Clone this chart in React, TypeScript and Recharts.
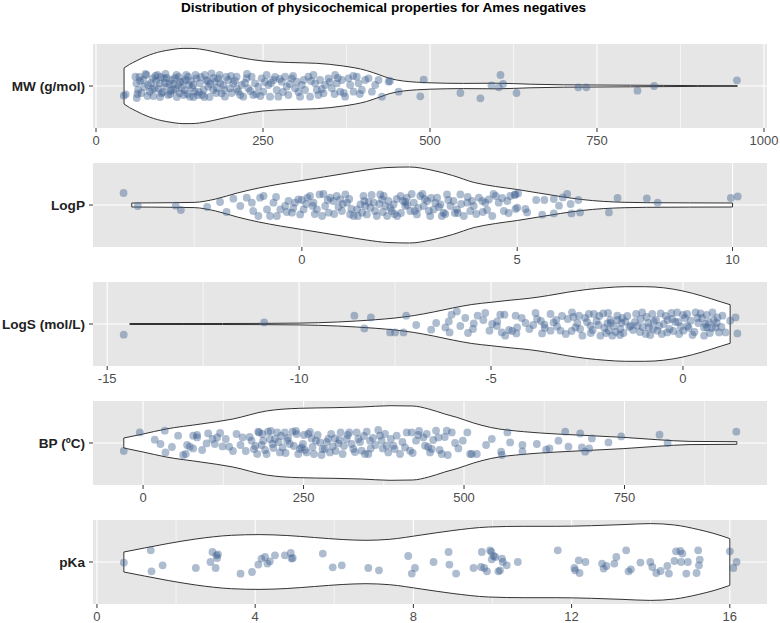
import {
  ComposedChart,
  Area,
  Scatter,
  XAxis,
  YAxis,
  CartesianGrid,
  ReferenceLine,
} from "recharts";

const FONT = "'Liberation Sans', Arial, sans-serif";
const POINT_COLOR = "#3F5F8F";

// ---- MW (g/mol)
const mwGrid = [42, 50, 60, 70, 80, 92, 105, 118, 130, 142, 155, 175, 195, 215, 250, 290, 330, 370, 405, 425, 440, 460, 480, 500, 550, 600, 650, 700, 750, 800, 850, 900, 960];
const mwHalf = [18, 21.5, 25, 28.3, 31, 33.6, 35.5, 36.9, 37.6, 37.6, 37, 34.5, 31.5, 28.5, 25, 23.5, 22.7, 20, 15.5, 11, 7.5, 5, 3.8, 3.2, 2.6, 2.8, 1.8, 1.2, 1.0, 0.8, 0.6, 0.4, 0.3];
const mwTicks = [0, 250, 500, 750, 1000];
const mwMinor = [125, 375, 625, 875];
const mwPoints: [number, number][] = [
  [41.5, -9.7], [44.5, -8.3], [59, 9.3], [60.5, 2.7], [63, -4], [70.5, 6], [75.5, 11], [78, 1], [80.5, -5.7], [85.5, 7.7],
  [88, -2.3], [92, 11], [95.5, 2.7], [98, -7.3], [102, 7.7], [105.5, -0.7], [108, -9], [113, 6], [115.5, -4], [120.5, 11],
  [123, 1], [125.5, -7.3], [130.5, 4.3], [133, -4], [138, 9.3], [140.5, -10.7], [145.5, 1], [148, -5.7], [150.5, 7.7], [155.5, 2.7],
  [159, -9], [163, 11], [165.5, 6], [168, -0.7], [173, 12.7], [175.5, -4], [178, 4.3], [183, 7.7], [188, -7.3], [190.5, 1],
  [193, -10.7], [198, 6], [200.5, -2.3], [205.5, 2.7], [210.5, 9.3], [213, -5.7], [218, 1], [220.5, -10.7], [225.5, 7.7], [228, -2.3],
  [233, 9.3], [235.5, -9], [238, 2.7], [243, -0.7], [248, 7.7], [250.5, -5.7], [255.5, 11], [258, 1], [260.5, -10.7], [265.5, 6],
  [270.5, -4], [273, -10.7], [278, 4.3], [283, 9.3], [285.5, -0.7], [288, -9], [293, 7.7], [298, -2.3], [300.5, 4.3], [305.5, -10.7],
  [308, 1], [313, -4], [318, 9.3], [320.5, -10.7], [325.5, 11], [328, 2.7], [330.5, -4], [335.5, 6], [340.5, -7.3], [343, 1],
  [348, 7.7], [353, -2.3], [358, 11], [360.5, 2.7], [365.5, -5.7], [368, 6], [373, -10.7], [378, 7.7], [380.5, 1], [385.5, -5.7],
  [390.5, 9.3], [393, 2.7], [398, -4], [403, 6], [408, 7.7], [413, -5.7], [418, 1], [428, -10.7], [438, 4.3], [453, -5.7],
  [61, -12], [62, -8], [66, 5], [72, -1], [74, 12], [82, 3], [86, -10], [90, 5], [94, -3], [97, 9],
  [100, -6], [104, 12], [110, 2], [112, -5], [118, 8], [121, -11], [126, 4], [128, -2], [135, 11], [137, -8],
  [142, 5], [144, -2], [152, -9], [157, 9], [161, -4], [167, 5], [170, -11], [176, 8], [180, -7], [186, 3],
  [195, 9], [203, -7], [208, 5], [216, -9], [223, 3], [231, -5], [246, -10], [253, 4], [268, 9], [280, -6],
  [295, 10], [311, 6], [333, -9], [350, 4], [371, -7], [385, 10],
  [65, 9], [68, -7], [77, -10], [84, -3], [89, 10], [96, -11], [103, 3], [106, 8], [111, -8], [116, 2],
  [119, -3], [124, 9], [131, -9], [134, 6], [139, 1], [146, -11], [149, 11], [154, -6], [162, -11], [171, 2],
  [181, -2], [185, 11], [192, -4], [202, 10], [211, -3], [226, 12], [240, -8], [262, 3], [275, 7], [290, 2],
  [303, -6], [322, 5], [338, -3], [357, -8], [362, 8], [395, -8], [423, 6],
  [440, 5], [485.5, -10.3], [490.5, 6.3], [545.5, -7], [575.5, -12.3], [592, 0.7], [603, -1.3], [605.5, 11], [609.5, 2], [629.5, -7],
  [722, -1.3], [734, -1.3], [810.6, -4.7], [835.5, 0], [959.5, 5.7],
];

// ---- LogP
const lpGrid = [-3.95, -3.5, -3.0, -2.5, -2.0, -1.5, -1.0, -0.5, 0, 0.5, 1.0, 1.5, 2.0, 2.5, 3.0, 3.5, 4.0, 4.5, 5.0, 5.5, 6.0, 6.5, 7.0, 7.5, 8.0, 9.0, 10.0];
const lpHalf = [2, 2.1, 2.3, 2.6, 6, 12, 17, 21, 24.5, 28, 31.5, 35, 37.5, 38, 35, 29.5, 22.5, 18.5, 15.5, 12, 8.5, 5.5, 3.6, 2.7, 2.3, 2.1, 2];
const lpTicks = [0, 5, 10];
const lpMinor = [-2.5, 2.5, 7.5];
const lpPoints: [number, number][] = [
  [-4.14, 12], [-3.81, -1], [-2.93, -0.7], [-2.81, -5],
  [-1.59, 6.3], [-1.43, -1], [-1.28, 7.3], [-1.16, 2.3], [-1.13, -6], [-1.01, -11], [-0.97, 7.3], [-0.89, 9], [-0.81, -4.4], [-0.74, -11],
  [-0.66, 2.3], [-0.58, -11], [-0.5, -4.4], [-0.39, -1], [-0.31, 4], [-0.23, -7.7], [-0.16, 2.3], [-0.08, 5.6], [-0.04, -9.4], [0.04, -4.4],
  [0.13, 7.3], [0.19, 9], [0.27, 2.3], [0.35, -4.4], [0.41, 10.6], [0.47, -11], [0.54, -1], [0.62, -7.7], [0.66, 7.3], [0.73, 4],
  [0.81, 9], [0.89, 5.6], [0.93, -6], [1.01, 10.6], [1.05, 2.3], [1.12, -9.4], [1.2, -11], [1.28, -4.4], [1.36, 0.6], [1.4, -7.7],
  [1.43, 9], [1.47, -1], [1.51, -9.4], [1.59, -2.7], [1.67, 2.3], [1.74, -11], [1.82, 10.6], [1.86, 5.6], [1.9, 9], [1.94, -1],
  [1.98, -11], [2.01, 4], [2.09, -6], [2.13, 0.6], [2.21, -11], [2.29, 9], [2.35, 4], [2.4, -1], [2.44, 7.3], [2.52, -6],
  [2.6, 2.3], [2.67, -9.4], [2.75, 9], [2.83, -1], [2.91, 4], [2.98, -11], [3.06, -4.4], [3.14, 7.3], [3.22, 0.6], [3.29, -7.7],
  [3.37, 10.6], [3.45, -1], [3.52, 4], [3.6, -4.4], [3.68, 10.6], [3.76, -11], [3.84, 2.3], [3.91, -6], [3.99, -1], [4.11, 7.3],
  [4.19, 4], [4.26, 2.3], [4.34, 5.6], [4.42, -11], [4.5, 9], [4.57, 2.3], [4.69, -6], [4.77, 4], [4.84, 9], [4.96, 10.6],
  [5.0, -2.7], [4.94, 10], [4.96, -4], [5.19, -4], [5.23, -7.4], [5.02, 11.6],
  [5.44, 5], [5.63, 5], [5.85, 6], [5.58, -9.7], [5.85, -8.4], [5.97, -0.7], [6.06, 7.6], [6.16, 11], [6.24, 1], [6.26, -8.4],
  [6.42, 5], [6.46, -7.4], [7.13, -7.4], [7.33, 7], [8.01, 6.6], [8.26, 2.3], [9.96, 7], [10.12, 8.6],
  [-0.2, -3], [0.1, 1], [0.3, -9], [0.6, 5], [0.85, -2], [1.1, 6], [1.3, -11], [1.55, 3], [1.7, -6], [1.8, 1],
  [2.05, -3], [2.2, 6], [2.3, -8], [2.45, 0], [2.55, 11], [2.7, -3], [2.85, 6], [2.95, -6], [3.1, 2], [3.25, -11],
  [3.4, 5], [3.55, -8], [3.7, 1], [3.85, 8], [4.05, -9], [4.3, -5], [4.65, 7], [-1.9, 3], [-2.2, -2], [-1.75, -7],
  [-0.6, 8], [-0.35, -7], [0.0, 5], [0.25, -1], [0.5, 11], [0.75, -9], [0.95, 1], [1.15, -4], [1.45, 4], [1.62, 10],
  [1.88, -7], [2.15, -9], [2.4, 3], [2.62, -6], [2.8, 11], [3.0, 7], [3.18, -2], [3.33, -9], [3.62, -8], [3.95, 4],
  [4.2, -7], [4.45, 11], [4.8, -8],
];

// ---- LogS (mol/L)
const lsGrid = [-14.41, -13, -12, -11, -10, -9.5, -9, -8.5, -8, -7.5, -7, -6.5, -6, -5.5, -5, -4.5, -4, -3.5, -3, -2.5, -2, -1.5, -1, -0.5, 0, 0.5, 1.0, 1.23];
const lsHalf = [0.5, 0.5, 0.5, 0.6, 0.9, 1.3, 2, 3, 4.3, 6, 8.5, 12, 16, 19.5, 21.7, 23.8, 25.7, 28.5, 31.8, 34.5, 36.3, 37.3, 37.3, 36.2, 33, 28, 22, 19.3];
const lsTicks = [-15, -10, -5, 0];
const lsMinor = [-12.5, -7.5, -2.5];
const lsPoints: [number, number][] = [
  [-14.57, -10.7], [-10.91, 1.6], [-8.56, 8.3], [-8.13, 6.6], [-8.3, -4.4], [-7.63, -8.4],
  [-7.5, -8.4], [-7.28, -8.4], [-7.21, 8.3], [-6.95, -1], [-6.56, -5.7], [-6.43, 1], [-6.19, -3.4], [-6.1, 2.6], [-6.08, -8.4], [-6.03, 9.3],
  [-5.89, 12.6], [-5.67, 6], [-5.45, 0.6], [-5.47, -5], [-5.35, 8.3], [-5.15, 11], [-5.04, -6.7], [-4.97, 0], [-4.84, 2.6], [-4.76, 9.3],
  [-4.65, 9.3], [-4.36, 8.3], [-4.32, -3.4], [-4.34, -9.4], [-4.63, -11.7], [-4.72, -8.4], [-4.53, -6], [-4.1, 1], [-3.84, 11], [-3.8, 5],
  [-3.67, -9.4], [-3.61, -0.7], [-3.45, 10], [-3.45, -6.7], [-3.37, 1.6], [-3.28, -2.4], [-3.19, -6.7], [-2.89, 11.6], [-2.8, -3.4], [-2.71, 8.3],
  [-2.62, -11.7], [-2.45, 10], [-2.32, 10], [-2.41, -1.7], [-2.15, -11.7], [-2.08, 10.6], [-1.97, 0.6], [-1.93, -6.7], [-1.89, 4], [-1.84, -11.7],
  [-1.71, 8.3], [-1.63, -5], [-1.64, -11], [-1.5, 2.6], [-1.36, -1.7], [-1.19, -1.7], [-1.1, 5], [-1.06, 11.6], [-0.97, -10], [-0.89, -3.4],
  [-0.8, 10], [-0.76, 2.6], [-0.67, -6.7], [-0.58, 10.6], [-0.5, 0], [-0.41, -8.4], [-0.28, 5], [-0.15, 11.6], [-0.06, -2.7], [0.01, -6.7],
  [0.11, 10], [0.2, 3.3], [0.33, 11.6], [0.46, 10.6], [0.55, -11.7], [0.59, 0], [0.63, -3.4], [0.68, 1.6], [0.55, -3.4], [0.77, 11.6],
  [0.85, -3.4], [0.9, 6.6], [0.94, -8.4], [1.03, 8.3], [1.11, -8.4], [1.23, 3.3], [1.37, 6.6], [1.42, -9.4],
  [-3.0, 5], [-2.9, -7], [-2.75, 1], [-2.55, 6], [-2.4, -9], [-2.25, 3], [-2.05, -4], [-1.95, 11], [-1.8, -2], [-1.7, 4],
  [-1.55, -9], [-1.45, 8], [-1.3, -6], [-1.25, 2], [-1.05, -3], [-0.95, 7], [-0.85, -11], [-0.7, 4], [-0.62, -2], [-0.45, 8],
  [-0.35, -5], [-0.2, 2], [-0.1, -10], [0.05, 6], [0.15, -4], [0.3, -8], [0.4, 1], [0.5, 6], [0.7, -9], [0.8, 4],
  [-3.6, -4], [-3.9, -1], [-4.2, 6], [-4.45, -7], [-5.2, 4], [-5.8, -2], [-3.15, 8], [-2.2, -1], [-1.6, 1], [-0.3, 11],
  [-3.3, 4], [-3.05, -10], [-2.85, 7], [-2.68, -5], [-2.5, 2], [-2.35, -6], [-2.18, 8], [-2.0, -9], [-1.88, 1], [-1.75, -8],
  [-1.58, 6], [-1.4, -3], [-1.22, 10], [-1.12, -8], [-0.9, 1], [-0.78, -5], [-0.55, -10], [-0.4, 4], [-0.25, -7], [-0.12, 2],
  [0.0, 9], [0.12, -2], [0.25, -11], [0.38, 6], [0.62, 9], [0.75, -4], [0.88, 1], [1.0, -3], [-4.0, -5], [-3.7, 3],
  [-4.85, -2], [-5.6, -9],
];

// ---- BP (ºC)
const bpGrid = [-30, 0, 36, 90, 140, 192, 244, 296, 340, 385, 420, 445, 470, 489, 515, 541, 593, 645, 697, 749, 801, 852, 925];
const bpHalf = [5, 9, 14, 19, 24, 32, 34.7, 35.3, 36, 37.3, 37, 34, 29, 25.6, 20, 15.6, 11.3, 9, 7.3, 5.6, 3.3, 1.6, 1.3];
const bpTicks = [0, 250, 500, 750];
const bpMinor = [125, 375, 625, 875];
const bpPoints: [number, number][] = [
  [-30.1, -8], [-5.1, 10.6], [18.2, 3.3], [27.1, -1], [33.8, 12.3], [34.9, -9.4], [54.6, 7.3], [62.4, -12], [66.6, -11], [68.6, -2],
  [72.8, -3.7], [78, -5.4], [78, 7.3], [84.2, 8], [84.2, 5.6], [98.9, -0.4], [101.4, 9.6], [108.2, 4], [111.8, -1], [115.4, 5.6],
  [123.8, -3.4], [128.9, 4], [134.1, -3.7], [145.6, 9], [151.8, -2], [155, 5.6], [169, 2.3], [172.6, -6], [177.8, -11], [179.3, 11.3],
  [180.9, 10.6], [184.6, -2], [187.1, 2.3], [192.4, -11], [194.9, 11.3], [197.6, 4], [201.8, -1], [205.4, 4], [208.9, 10.6], [213.2, -9.4],
  [217.3, -4.4], [220.9, 10.6], [224.5, 2.3], [228.7, -1], [232.9, 11.3], [239.2, 9], [241.7, -11], [244.3, -6], [247, -4.4], [250.6, 8],
  [254.8, -9.4], [257.3, 9], [262.6, 4.6], [266.2, -11], [269.3, 2.3], [275.5, 0.6], [279.7, -6], [283.3, -6], [288.5, 4], [291.1, -9.4],
  [295.3, -3.4], [298.9, 4.6], [304.1, -0.4], [307.8, 10.6], [310.9, -11], [317.2, 4], [321.2, 10.6], [325, -1], [327.5, -6], [332.8, 10.6],
  [335.3, 4], [340.6, -7.7], [345.7, -11], [348.4, 11.3], [353.5, 2.3], [354.6, -5.4], [366.4, 13], [369.1, 7.3], [371.7, 2.3], [373.3, -5.4],
  [379.5, -2.7], [382, -9.4], [389.8, -2.7], [395.1, 7.3], [400.3, -11], [408.1, -4.4], [410.7, 10.6], [415.9, -7.7], [418.5, 10.6], [425.2, 2.3],
  [428.8, 8], [436.6, 5.6], [439.3, -2.7], [441.9, 9], [447, -9.4], [449.7, -6], [456.4, 12.3], [460, 5.6], [465.3, -11], [473.1, 12.3],
  [474.7, -12], [480.9, 10.6], [491.2, -5.4], [498.1, 2.3], [505.2, 10.6], [509.4, -11], [512.1, -11], [519.9, -11], [534.4, -2], [543.3, 4],
  [557.8, -8.7], [558.9, -12], [567.6, 10.6], [571.8, 0.6], [591, -2], [591, -8.4], [613.4, -1], [627.9, -6.7], [633.1, -5.4], [647.1, 2.3],
  [657.6, 11.3], [662.7, -3.7], [681, 9.6], [683.6, -4.4], [688.7, -8.7], [694.9, -5.4], [699.2, 4.6], [725, 0.6], [744.9, 6.6], [804.6, 8.3],
  [817.1, 0], [924.2, 11.3],
  [160, -8], [166, 6], [175, -3], [186, 9], [190, -7], [199, 12], [203, -5], [211, 1], [215, 7], [222, -10],
  [226, 5], [235, -3], [238, 12], [249, -1], [252, -7], [260, 11], [264, -4], [272, 8], [278, -12], [286, 1],
  [293, 9], [300, -8], [306, 3], [313, -3], [319, 8], [330, -9], [338, 1], [344, 7], [351, -11], [358, 5],
  [362, -2], [377, 9], [386, 4], [392, -6], [404, 1], [420, -10], [430, 12], [444, -4], [452, 3], [462, -7],
  [470, 6], [486, 0], [45, -4], [92, -7], [120, 10], [140, -8],
];

// ---- pKa
const pkGrid = [0.68, 1.2, 1.8, 2.5, 3.4, 4.1, 4.8, 5.5, 6.2, 6.8, 7.4, 8.2, 9.0, 9.9, 10.8, 11.6, 12.5, 13.3, 14.0, 14.6, 15.2, 15.6, 16.0];
const pkHalf = [10, 14, 18.5, 23, 26.7, 27.4, 26.5, 24.5, 22.5, 21.7, 22.7, 27, 31.5, 35, 35.7, 35.7, 36.3, 37.4, 38.4, 37, 32.5, 28.5, 23.4];
const pkTicks = [0, 4, 8, 12, 16];
const pkMinor = [2, 6, 10, 14];
const pkPoints: [number, number][] = [
  [0.68, -0.6], [1.36, 11.7], [1.38, -9.3], [1.66, -3.3], [2.5, -6], [2.87, 0], [2.92, 10], [3.0, -6], [3.02, 6.7], [3.04, 4],
  [3.06, 7.7], [3.63, -11.7], [3.92, -10], [4.08, -2.6], [4.16, 3.4], [4.25, 5], [4.31, -1.6], [4.37, 0.7], [4.5, 6.7], [4.75, 6.7],
  [4.9, 9], [4.92, 3.4], [4.95, 4], [5.71, 8.4], [5.96, -5.3], [6.19, -3.3], [6.86, -6], [7.13, -8.3],
  [7.87, 6], [7.96, -11.6], [8.04, -6], [8.51, 0], [8.89, 10], [8.91, -2.6], [9.08, -11.6], [9.52, -6], [9.73, 10], [9.71, -5],
  [9.79, -6], [9.86, -9.3], [9.94, 11.7], [9.97, 10], [9.98, 2.7], [10.03, 6], [10.07, 5], [10.15, -9.3], [10.19, -8.3], [10.24, 3.4],
  [10.26, 0], [10.36, -3.3], [10.64, 0], [11.65, 11.7], [12.07, -6], [12.09, -8.3], [12.18, 1.7], [12.2, -11], [12.35, 0], [12.77, -1.6],
  [12.81, -6.6], [12.88, -4], [13.08, -1.6], [13.13, 5], [13.38, 11.7], [13.44, -9.3], [13.5, -7.3], [13.74, -0.6], [13.99, 0], [14.04, -5],
  [14.14, -11], [14.25, -9], [14.42, -4], [14.46, -11.6], [14.6, 1], [14.64, 10.7], [14.75, 11], [14.8, 8.4], [14.77, 0], [14.94, 0],
  [14.9, -11.6], [15.16, -11], [15.2, 11.7], [15.22, -3.3], [15.24, 2.4], [16.0, 10.7], [16.09, -6], [16.17, 0],
];

const PLOT_H = 84;
const HALF_H = PLOT_H / 2;

interface PanelProps {
  label: string;
  grid: number[];
  half: number[];
  points: [number, number][];
  ticks: number[];
  minor: number[];
  domain: [number, number];
  top: number;
}

function ViolinPanel({ label, grid, half, points, ticks, minor, domain, top }: PanelProps) {
  const band = grid.map((x, i) => ({ x, band: [-half[i], half[i]] }));
  const dots = points.map(([x, y]) => ({ x, y }));
  const first = band[0];
  const last = band[band.length - 1];

  return (
    <div style={{ position: "absolute", left: 0, top: top - 4 }}>
      <ComposedChart
        width={780}
        height={PLOT_H + 36}
        data={band}
        margin={{ top: 4, right: 13, bottom: 0, left: 0 }}
      >
        <CartesianGrid fill="#E6E6E6" horizontal={false} vertical={false} />
        {minor.map((v) => (
          <ReferenceLine key={"m" + v} x={v} stroke="#fff" strokeWidth={0.6} zIndex={-50} />
        ))}
        {ticks.map((v) => (
          <ReferenceLine key={"t" + v} x={v} stroke="#fff" strokeWidth={1.1} zIndex={-50} />
        ))}
        <ReferenceLine y={0} stroke="#fff" strokeWidth={1.1} zIndex={-50} />
        <XAxis
          type="number"
          dataKey="x"
          domain={domain}
          ticks={ticks}
          interval={0}
          allowDataOverflow
          axisLine={false}
          tickLine={{ stroke: "#333" }}
          tickSize={4}
          tickMargin={4}
          height={32}
          tick={{ fontSize: 13, fill: "#4D4D4D", fontFamily: FONT }}
        />
        <YAxis
          type="number"
          dataKey="y"
          domain={[-HALF_H, HALF_H]}
          ticks={[0]}
          tickFormatter={() => label}
          allowDataOverflow
          width={93}
          axisLine={false}
          tickLine={{ stroke: "#333" }}
          tickSize={4}
          tickMargin={4}
          tick={{ fontSize: 13.6, fontWeight: 700, fill: "#222", fontFamily: FONT }}
        />
        <Area
          dataKey="band"
          type="monotone"
          fill="#fff"
          fillOpacity={1}
          stroke="#333"
          strokeWidth={1}
          dot={false}
          activeDot={false}
          isAnimationActive={false}
        />
        <ReferenceLine
          segment={[{ x: first.x, y: first.band[0] }, { x: first.x, y: first.band[1] }]}
          stroke="#333"
          strokeWidth={1}
        />
        <ReferenceLine
          segment={[{ x: last.x, y: last.band[0] }, { x: last.x, y: last.band[1] }]}
          stroke="#333"
          strokeWidth={1}
        />
        <Scatter
          data={dots}
          isAnimationActive={false}
          shape={(p: any) => (
            <circle cx={p.cx} cy={p.cy} r={3.9} fill={POINT_COLOR} fillOpacity={0.42} />
          )}
        />
      </ComposedChart>
    </div>
  );
}

export default function App() {
  return (
    <div style={{ position: "absolute", left: 0, top: 0, width: 780, height: 623 }}>
      <div
        style={{
          position: "absolute",
          left: 0,
          top: 0,
          width: 767,
          textAlign: "center",
          fontFamily: FONT,
          fontWeight: 700,
          fontSize: 13.6,
          lineHeight: "16px",
          color: "#000",
        }}
      >
        Distribution of physicochemical properties for Ames negatives
      </div>
      <ViolinPanel label="MW (g/mol)" grid={mwGrid} half={mwHalf} points={mwPoints} ticks={mwTicks} minor={mwMinor} domain={[-4.5, 1004.5]} top={44} />
      <ViolinPanel label="LogP" grid={lpGrid} half={lpHalf} points={lpPoints} ticks={lpTicks} minor={lpMinor} domain={[-4.85, 10.8]} top={163} />
      <ViolinPanel label="LogS (mol/L)" grid={lsGrid} half={lsHalf} points={lsPoints} ticks={lsTicks} minor={lsMinor} domain={[-15.37, 2.19]} top={281.7} />
      <ViolinPanel label="BP (ºC)" grid={bpGrid} half={bpHalf} points={bpPoints} ticks={bpTicks} minor={bpMinor} domain={[-78, 972]} top={400.7} />
      <ViolinPanel label="pKa" grid={pkGrid} half={pkHalf} points={pkPoints} ticks={pkTicks} minor={pkMinor} domain={[-0.1, 16.94]} top={519.5} />
    </div>
  );
}
